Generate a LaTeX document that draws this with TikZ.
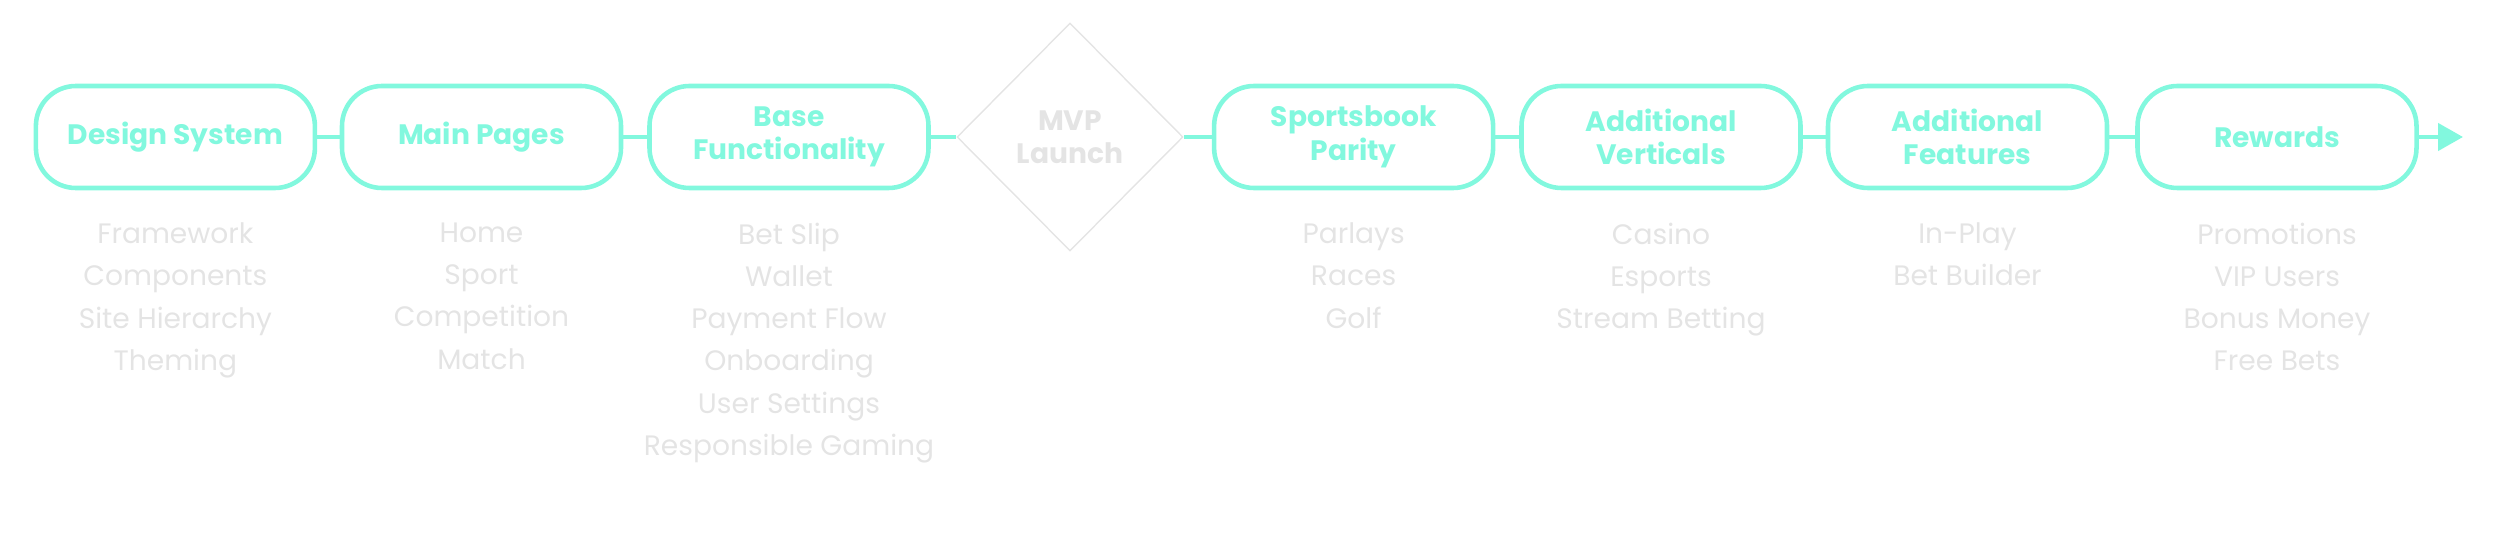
\documentclass[tikz,border=0pt]{standalone}
\usepackage{fontspec}
\setmainfont{Poppins}
\usetikzlibrary{shapes.geometric,arrows.meta}
\definecolor{mint}{RGB}{130,248,222}
\definecolor{ghost}{RGB}{228,228,228}
\begin{document}
\begin{tikzpicture}[every node/.style={font=\fontsize{8}{9.5}\selectfont},
  stage/.style={draw=mint,line width=1.3pt,rounded corners=0.4cm,minimum width=2.79cm,minimum height=1.02cm,align=center,text=mint,font=\fontsize{8}{9.5}\selectfont\bfseries},
  gate/.style={diamond,draw=ghost,thin,minimum width=2.26cm,minimum height=2.28cm,inner sep=0pt,align=center,text=ghost,font=\fontsize{8}{9.5}\selectfont\bfseries},
  items/.style={align=center,text=ghost,inner sep=0pt,anchor=north,font=\fontsize{8}{12}\selectfont},
  link/.style={draw=mint,line width=1.3pt}]
\useasboundingbox (0,0) rectangle (25,-5.4);
% milestones along the line
\node[stage] (design) at (1.754,-1.37) {Design System};
\node[stage] (main) at (4.815,-1.37) {Main Pages};
\node[stage] (base) at (7.89,-1.37) {Base\\Functionality};
\node[gate] (mvp) at (10.70,-1.37) {MVP\\Launch};
\node[stage] (sports) at (13.536,-1.37) {Sportsbook\\Parity};
\node[stage] (verticals) at (16.61,-1.37) {Additional\\Verticals};
\node[stage] (features) at (19.675,-1.37) {Additional\\Features};
\node[stage] (rewards) at (22.77,-1.37) {Rewards};
\coordinate (end) at (24.63,-1.37);
% what each one contains
\node[items] (design-items) at ([yshift=-0.32cm]design.south) {Framework\\Components\\Site Hierarchy\\Theming};
\node[items] (main-items) at ([yshift=-0.32cm]main.south) {Home\\Sport\\Competition\\Match};
\node[items] (base-items) at ([yshift=-0.32cm]base.south) {Bet Slip\\Wallet\\Payment Flow\\Onboarding\\User Settings\\Responsible Gaming};
\node[items] (sports-items) at ([yshift=-0.32cm]sports.south) {Parlays\\Races\\Golf};
\node[items] (verticals-items) at ([yshift=-0.32cm]verticals.south) {Casino\\Esports\\Stream Betting};
\node[items] (features-items) at ([yshift=-0.32cm]features.south) {In-Play\\Bet Builder};
\node[items] (rewards-items) at ([yshift=-0.32cm]rewards.south) {Promotions\\VIP Users\\Bonus Money\\Free Bets};
\draw[link] (design) -- (main);
\draw[link] (main) -- (base);
\draw[link] (base) -- (mvp);
\draw[link] (mvp) -- (sports);
\draw[link] (sports) -- (verticals);
\draw[link] (verticals) -- (features);
\draw[link] (features) -- (rewards);
\draw[link,-{Triangle[length=0.25cm,width=0.27cm]}] (rewards) -- (end);
\end{tikzpicture}
\end{document}
